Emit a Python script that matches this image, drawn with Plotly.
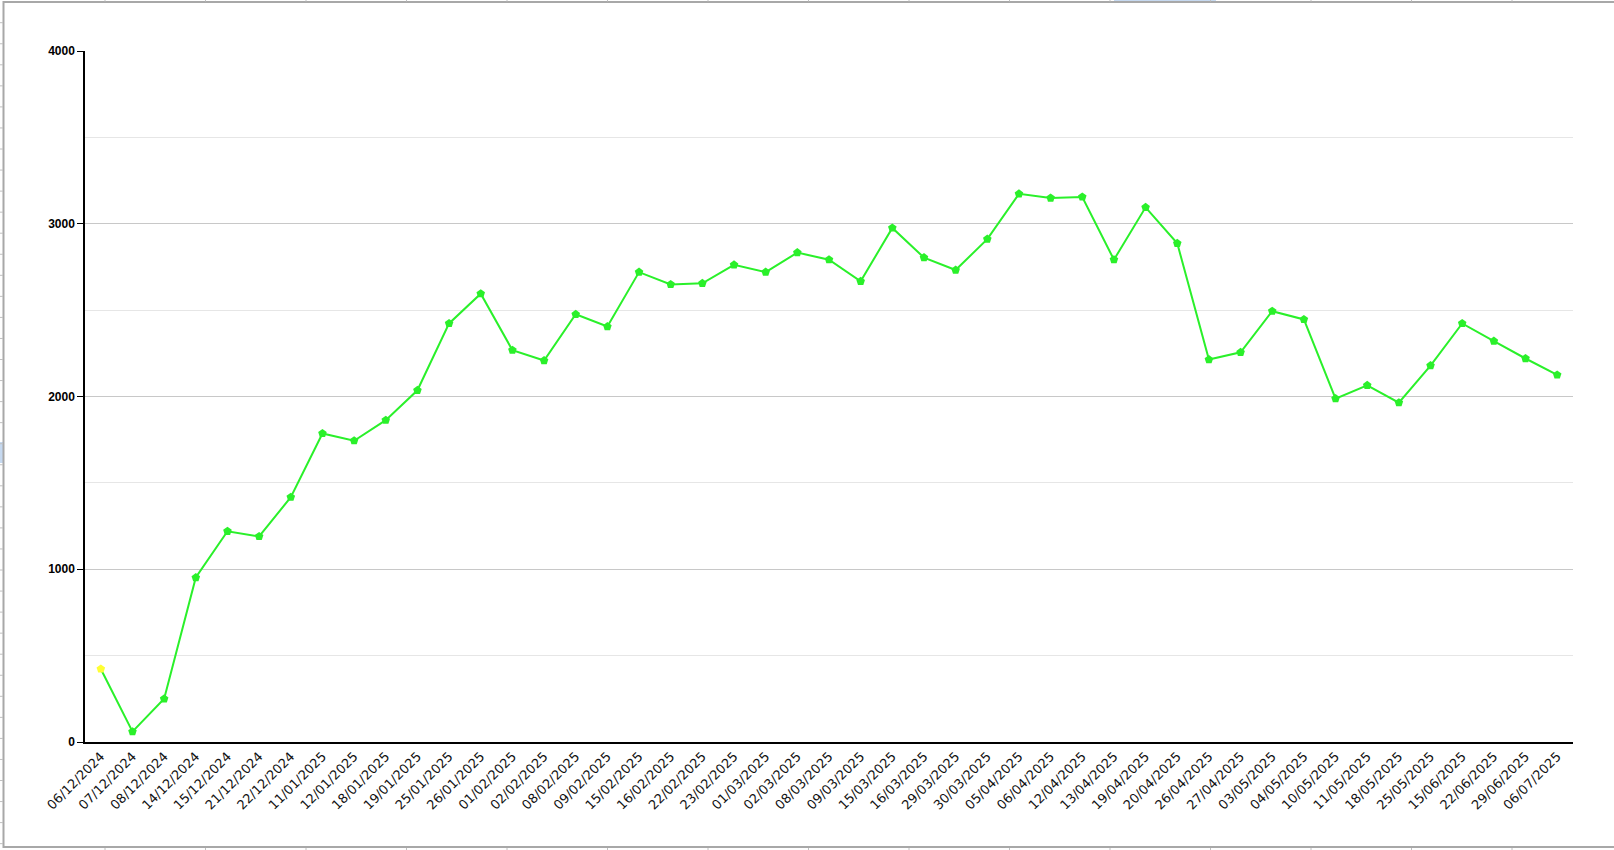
import plotly.graph_objects as go

dates = ["06/12/2024", "07/12/2024", "08/12/2024", "14/12/2024", "15/12/2024", "21/12/2024",
         "22/12/2024", "11/01/2025", "12/01/2025", "18/01/2025", "19/01/2025", "25/01/2025",
         "26/01/2025", "01/02/2025", "02/02/2025", "08/02/2025", "09/02/2025", "15/02/2025",
         "16/02/2025", "22/02/2025", "23/02/2025", "01/03/2025", "02/03/2025", "08/03/2025",
         "09/03/2025", "15/03/2025", "16/03/2025", "29/03/2025", "30/03/2025", "05/04/2025",
         "06/04/2025", "12/04/2025", "13/04/2025", "19/04/2025", "20/04/2025", "26/04/2025",
         "27/04/2025", "03/05/2025", "04/05/2025", "10/05/2025", "11/05/2025", "18/05/2025",
         "25/05/2025", "15/06/2025", "22/06/2025", "29/06/2025", "06/07/2025"]

values = [423, 60, 250, 952, 1220, 1190, 1417, 1786, 1744, 1863, 2036, 2423,
          2595, 2268, 2208, 2476, 2405, 2720, 2649, 2655, 2762, 2720, 2833, 2792,
          2667, 2976, 2804, 2732, 2911, 3173, 3149, 3155, 2792, 3095, 2887, 2214,
          2256, 2494, 2446, 1988, 2065, 1964, 2179, 2423, 2321, 2220, 2125]

y_ticks = [0, 1000, 2000, 3000, 4000]

line_color = "#2af02a"
marker_colors = ["#ffff33"] + [line_color] * (len(values) - 1)

fig = go.Figure()
fig.add_trace(go.Scatter(
    x=dates, y=values, mode="lines+markers",
    line=dict(color=line_color, width=2),
    marker=dict(symbol="pentagon", size=9, color=marker_colors, line=dict(width=0)),
    hoverinfo="x+y", showlegend=False,
))

W, H = 1614, 850
ml, mr, mt, mb = 85, 41, 51, 108
pw, ph = W - ml - mr, H - mt - mb

def px(p):
    return (p - ml) / pw

def py(p):
    return 1 - (p - mt) / ph

shapes = []
frame = "#a8a8a8"
# spreadsheet-like surroundings (decoration)
shapes.append(dict(type="rect", xref="paper", yref="paper", x0=px(1114), x1=px(1216), y0=py(0), y1=py(2),
                   fillcolor="#c6d9f0", line=dict(width=0), layer="below"))
shapes.append(dict(type="rect", xref="paper", yref="paper", x0=px(0), x1=px(3), y0=py(442), y1=py(463),
                   fillcolor="#c6d9f0", line=dict(width=0), layer="below"))
shapes.append(dict(type="line", xref="paper", yref="paper", x0=px(3), x1=px(1614), y0=py(2), y1=py(2),
                   line=dict(color=frame, width=2)))
shapes.append(dict(type="line", xref="paper", yref="paper", x0=px(3.5), x1=px(3.5), y0=py(1), y1=py(848),
                   line=dict(color=frame, width=2)))
shapes.append(dict(type="line", xref="paper", yref="paper", x0=px(3), x1=px(1614), y0=py(847), y1=py(847),
                   line=dict(color=frame, width=2)))
for k in range(40):
    yy = 22.7 + 21.05 * k
    if yy > 846:
        break
    shapes.append(dict(type="line", xref="paper", yref="paper", x0=px(0), x1=px(3), y0=py(yy), y1=py(yy),
                       line=dict(color="#c0c0c0", width=1)))
for k in range(17):
    xx = 105 + 100.5 * k
    if xx > 1612:
        break
    shapes.append(dict(type="line", xref="paper", yref="paper", x0=px(xx), x1=px(xx), y0=py(0), y1=py(1.5),
                       line=dict(color="#c0c0c0", width=1)))
    shapes.append(dict(type="line", xref="paper", yref="paper", x0=px(xx), x1=px(xx), y0=py(848), y1=py(850),
                       line=dict(color="#c0c0c0", width=1)))

fig.update_layout(
    width=W, height=H,
    margin=dict(l=ml, r=mr, t=mt, b=mb),
    paper_bgcolor="white", plot_bgcolor="white",
    shapes=shapes,
    xaxis=dict(
        type="category", categoryorder="array", categoryarray=dates,
        range=[-0.5, len(dates) - 0.5],
        showgrid=False, showline=True, linecolor="black", linewidth=1.5,
        ticks="", tickangle=-45,
        tickfont=dict(family="DejaVu Sans", size=13, color="#111111"),
        zeroline=False,
    ),
    yaxis=dict(
        range=[0, 4000], tickvals=y_ticks, ticktext=[str(v) for v in y_ticks],
        showgrid=True, gridcolor="#c8c8c8", gridwidth=1,
        minor=dict(dtick=500, showgrid=True, gridcolor="#e6e6e6", gridwidth=1),
        showline=True, linecolor="black", linewidth=1.5,
        ticks="outside", ticklen=6, tickcolor="black",
        tickfont=dict(family="Liberation Sans", size=12, color="black", weight="bold"),
        zeroline=False,
    ),
)

fig.write_html("out.html", config={"displayModeBar": False},
               post_script="document.body.style.margin='0';document.body.style.overflow='hidden';")
